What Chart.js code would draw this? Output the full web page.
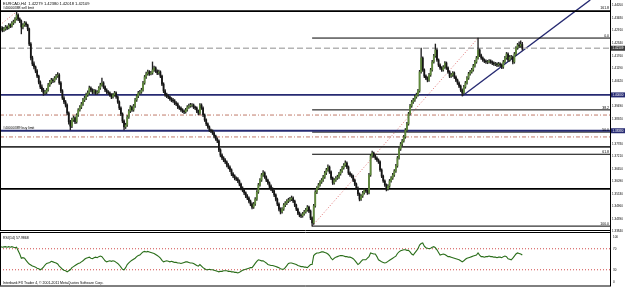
<!DOCTYPE html>
<html>
<head>
<meta charset="utf-8">
<script src="https://cdn.jsdelivr.net/npm/chart.js@4.4.1/dist/chart.umd.min.js"></script>
<style>
  html, body { margin: 0; padding: 0; background: #fff; }
  #wrap { position: relative; width: 625px; height: 292px; overflow: hidden; }
  #main { position: absolute; left: 0; top: 0; }
  #osc { position: absolute; left: 0; top: 233px; }
</style>
</head>
<body>
<div id="wrap">
  <canvas id="main" width="625" height="233"></canvas>
  <canvas id="osc" width="625" height="59"></canvas>
</div>
<script>
// EURCAD H4, 6 Jun - 19 Aug 2011 (one value per H4 bar)
const opens = [1.4296,1.4302,1.4293,1.4298,1.4307,1.4302,1.4316,1.4311,1.4325,1.4330,
  1.4343,1.4361,1.4343,1.4334,1.4307,1.4316,1.4325,1.4316,1.4298,1.4230,
  1.4167,1.4140,1.4126,1.4108,1.4085,1.4058,1.4036,1.4022,1.4009,1.4013,
  1.4022,1.4045,1.4058,1.4067,1.4063,1.4076,1.4085,1.4090,1.4054,1.4018,
  1.3986,1.3968,1.3954,1.3918,1.3878,1.3859,1.3887,1.3896,1.3878,1.3909,
  1.3932,1.3945,1.3959,1.3977,1.3986,1.4000,1.4009,1.4031,1.4022,1.4013,
  1.4018,1.4009,1.4013,1.4031,1.4045,1.4054,1.4036,1.4022,1.4013,1.4009,
  1.4000,1.3991,1.4000,1.4009,1.3991,1.3968,1.3941,1.3914,1.3882,1.3855,
  1.3864,1.3900,1.3927,1.3945,1.3932,1.3950,1.3977,1.3995,1.4009,1.4013,
  1.4022,1.4054,1.4081,1.4095,1.4104,1.4095,1.4099,1.4113,1.4122,1.4108,
  1.4099,1.4104,1.4085,1.4049,1.4018,1.4000,1.3995,1.3991,1.3982,1.3977,
  1.3973,1.3963,1.3959,1.3945,1.3941,1.3932,1.3927,1.3923,1.3932,1.3945,
  1.3950,1.3954,1.3954,1.3945,1.3941,1.3927,1.3918,1.3954,1.3941,1.3909,
  1.3887,1.3869,1.3855,1.3841,1.3837,1.3828,1.3814,1.3801,1.3792,1.3751,
  1.3728,1.3715,1.3706,1.3697,1.3683,1.3674,1.3661,1.3643,1.3634,1.3624,
  1.3620,1.3611,1.3597,1.3579,1.3570,1.3557,1.3543,1.3534,1.3520,1.3507,
  1.3493,1.3507,1.3529,1.3561,1.3593,1.3615,1.3638,1.3647,1.3629,1.3615,
  1.3602,1.3588,1.3575,1.3566,1.3548,1.3529,1.3507,1.3484,1.3471,1.3484,
  1.3502,1.3511,1.3520,1.3525,1.3529,1.3534,1.3520,1.3502,1.3484,1.3466,
  1.3457,1.3453,1.3462,1.3471,1.3480,1.3493,1.3475,1.3444,1.3421,1.3498,
  1.3561,1.3579,1.3593,1.3606,1.3615,1.3629,1.3647,1.3661,1.3674,1.3652,
  1.3624,1.3602,1.3615,1.3624,1.3629,1.3643,1.3656,1.3670,1.3683,1.3692,
  1.3674,1.3647,1.3638,1.3633,1.3615,1.3597,1.3579,1.3552,1.3529,1.3543,
  1.3557,1.3570,1.3566,1.3557,1.3638,1.3724,1.3737,1.3724,1.3715,1.3706,
  1.3697,1.3661,1.3633,1.3611,1.3593,1.3575,1.3588,1.3611,1.3624,1.3638,
  1.3656,1.3679,1.3715,1.3755,1.3778,1.3792,1.3810,1.3841,1.3869,1.3914,
  1.3950,1.3968,1.3977,1.3991,1.4000,1.4018,1.4104,1.4167,1.4113,1.4085,
  1.4076,1.4067,1.4090,1.4113,1.4149,1.4176,1.4203,1.4158,1.4135,1.4122,
  1.4113,1.4126,1.4144,1.4122,1.4104,1.4085,1.4090,1.4099,1.4081,1.4067,
  1.4054,1.4040,1.4022,1.4009,1.4036,1.4054,1.4076,1.4095,1.4104,1.4113,
  1.4131,1.4149,1.4167,1.4203,1.4180,1.4167,1.4158,1.4153,1.4149,1.4149,
  1.4153,1.4149,1.4144,1.4140,1.4140,1.4135,1.4140,1.4135,1.4126,1.4149,
  1.4167,1.4185,1.4158,1.4171,1.4171,1.4149,1.4185,1.4212,1.4226,1.4221,
  1.42279];

const highs = [1.4310,1.4308,1.4305,1.4314,1.4312,1.4322,1.4321,1.4331,1.4338,1.4350,
  1.4376,1.4366,1.4348,1.4339,1.4322,1.4332,1.4330,1.4320,1.4302,1.4236,
  1.4175,1.4150,1.4131,1.4114,1.4090,1.4064,1.4045,1.4030,1.4021,1.4029,
  1.4052,1.4066,1.4075,1.4074,1.4083,1.4093,1.4101,1.4096,1.4060,1.4024,
  1.3993,1.3975,1.3960,1.3923,1.3885,1.3895,1.3905,1.3901,1.3915,1.3938,
  1.3952,1.3966,1.3984,1.3994,1.4008,1.4018,1.4040,1.4037,1.4028,1.4025,
  1.4023,1.4020,1.4038,1.4053,1.4076,1.4060,1.4041,1.4028,1.4019,1.4014,
  1.4006,1.4007,1.4016,1.4014,1.3996,1.3973,1.3946,1.3919,1.3887,1.3872,
  1.3907,1.3934,1.3952,1.3950,1.3957,1.3984,1.4002,1.4016,1.4021,1.4030,
  1.4061,1.4088,1.4103,1.4112,1.4110,1.4107,1.4149,1.4130,1.4127,1.4113,
  1.4112,1.4109,1.4090,1.4055,1.4024,1.4008,1.4001,1.3996,1.3988,1.3984,
  1.3979,1.3970,1.3964,1.3951,1.3946,1.3938,1.3933,1.3939,1.3952,1.3958,
  1.3962,1.3961,1.3959,1.3950,1.3946,1.3932,1.3961,1.3960,1.3946,1.3914,
  1.3892,1.3874,1.3860,1.3846,1.3842,1.3833,1.3818,1.3806,1.3797,1.3757,
  1.3734,1.3721,1.3712,1.3702,1.3690,1.3679,1.3666,1.3649,1.3639,1.3630,
  1.3626,1.3616,1.3602,1.3585,1.3575,1.3562,1.3549,1.3539,1.3525,1.3512,
  1.3514,1.3536,1.3568,1.3600,1.3622,1.3645,1.3658,1.3652,1.3634,1.3620,
  1.3607,1.3593,1.3581,1.3571,1.3553,1.3534,1.3512,1.3490,1.3491,1.3509,
  1.3518,1.3527,1.3533,1.3537,1.3543,1.3539,1.3525,1.3507,1.3489,1.3471,
  1.3462,1.3469,1.3478,1.3487,1.3500,1.3498,1.3480,1.3449,1.3505,1.3568,
  1.3586,1.3600,1.3613,1.3622,1.3636,1.3654,1.3668,1.3684,1.3679,1.3657,
  1.3629,1.3622,1.3631,1.3637,1.3650,1.3663,1.3677,1.3690,1.3702,1.3697,
  1.3679,1.3652,1.3644,1.3638,1.3620,1.3602,1.3584,1.3557,1.3550,1.3564,
  1.3577,1.3576,1.3571,1.3645,1.3731,1.3746,1.3742,1.3729,1.3720,1.3711,
  1.3702,1.3666,1.3638,1.3616,1.3598,1.3595,1.3618,1.3631,1.3645,1.3663,
  1.3686,1.3722,1.3762,1.3785,1.3799,1.3817,1.3848,1.3876,1.3921,1.3957,
  1.3975,1.3985,1.3998,1.4008,1.4025,1.4111,1.4212,1.4172,1.4118,1.4091,
  1.4082,1.4097,1.4120,1.4156,1.4183,1.4230,1.4208,1.4163,1.4140,1.4128,
  1.4133,1.4151,1.4149,1.4127,1.4109,1.4097,1.4106,1.4104,1.4086,1.4072,
  1.4059,1.4045,1.4027,1.4043,1.4061,1.4083,1.4102,1.4111,1.4120,1.4138,
  1.4156,1.4174,1.4257,1.4208,1.4185,1.4172,1.4163,1.4158,1.4156,1.4160,
  1.4158,1.4154,1.4149,1.4147,1.4145,1.4147,1.4145,1.4140,1.4156,1.4174,
  1.4192,1.4190,1.4178,1.4179,1.4176,1.4192,1.4219,1.4233,1.4240,1.4244,
  1.42380];

const lows = [1.4290,1.4285,1.4287,1.4292,1.4295,1.4298,1.4304,1.4306,1.4318,1.4325,
  1.4338,1.4336,1.4326,1.4276,1.4298,1.4310,1.4308,1.4290,1.4222,1.4158,
  1.4132,1.4118,1.4100,1.4078,1.4050,1.4028,1.4015,1.3998,1.4002,1.4006,
  1.4017,1.4038,1.4050,1.4055,1.4058,1.4070,1.4079,1.4047,1.4010,1.3979,
  1.3960,1.3945,1.3910,1.3868,1.3842,1.3852,1.3880,1.3870,1.3872,1.3903,
  1.3926,1.3938,1.3952,1.3970,1.3979,1.3993,1.4003,1.4015,1.4005,1.4006,
  1.4001,1.4002,1.4008,1.4025,1.4040,1.4029,1.4015,1.4006,1.4001,1.3993,
  1.3983,1.3985,1.3994,1.3984,1.3961,1.3933,1.3906,1.3874,1.3842,1.3848,
  1.3858,1.3894,1.3920,1.3925,1.3926,1.3944,1.3970,1.3988,1.4002,1.4007,
  1.4017,1.4048,1.4075,1.4089,1.4088,1.4090,1.4093,1.4106,1.4101,1.4092,
  1.4093,1.4078,1.4042,1.4010,1.3993,1.3988,1.3983,1.3975,1.3969,1.3966,
  1.3956,1.3951,1.3938,1.3934,1.3925,1.3920,1.3915,1.3917,1.3926,1.3939,
  1.3944,1.3946,1.3938,1.3933,1.3920,1.3910,1.3912,1.3934,1.3902,1.3880,
  1.3861,1.3848,1.3834,1.3829,1.3821,1.3806,1.3794,1.3784,1.3743,1.3720,
  1.3707,1.3698,1.3689,1.3675,1.3666,1.3653,1.3635,1.3626,1.3616,1.3612,
  1.3603,1.3589,1.3571,1.3562,1.3549,1.3535,1.3526,1.3512,1.3499,1.3485,
  1.3487,1.3501,1.3523,1.3555,1.3587,1.3609,1.3631,1.3622,1.3608,1.3595,
  1.3580,1.3567,1.3558,1.3540,1.3521,1.3499,1.3476,1.3462,1.3465,1.3478,
  1.3495,1.3504,1.3513,1.3518,1.3522,1.3513,1.3495,1.3477,1.3459,1.3449,
  1.3445,1.3447,1.3456,1.3465,1.3474,1.3468,1.3436,1.3407,1.3415,1.3492,
  1.3554,1.3572,1.3587,1.3600,1.3609,1.3622,1.3640,1.3655,1.3645,1.3617,
  1.3595,1.3596,1.3609,1.3618,1.3623,1.3637,1.3650,1.3664,1.3677,1.3667,
  1.3640,1.3631,1.3625,1.3608,1.3590,1.3572,1.3545,1.3521,1.3523,1.3537,
  1.3551,1.3559,1.3550,1.3552,1.3632,1.3717,1.3717,1.3708,1.3699,1.3690,
  1.3654,1.3626,1.3604,1.3586,1.3566,1.3569,1.3582,1.3605,1.3618,1.3632,
  1.3650,1.3673,1.3709,1.3749,1.3771,1.3786,1.3804,1.3835,1.3863,1.3908,
  1.3944,1.3961,1.3971,1.3985,1.3994,1.4012,1.4098,1.4106,1.4078,1.4069,
  1.4059,1.4061,1.4084,1.4107,1.4143,1.4170,1.4151,1.4128,1.4115,1.4106,
  1.4107,1.4120,1.4115,1.4097,1.4078,1.4079,1.4084,1.4074,1.4060,1.4047,
  1.4033,1.4015,1.3995,1.4003,1.4030,1.4048,1.4070,1.4089,1.4098,1.4107,
  1.4125,1.4143,1.4161,1.4173,1.4160,1.4151,1.4146,1.4142,1.4141,1.4143,
  1.4142,1.4137,1.4133,1.4132,1.4128,1.4129,1.4128,1.4119,1.4120,1.4143,
  1.4161,1.4151,1.4152,1.4163,1.4140,1.4143,1.4179,1.4206,1.4214,1.4215,
  1.42018];

const closes = [1.4302,1.4293,1.4298,1.4307,1.4302,1.4316,1.4311,1.4325,1.4330,1.4343,
  1.4361,1.4343,1.4334,1.4307,1.4316,1.4325,1.4316,1.4298,1.4230,1.4167,
  1.4140,1.4126,1.4108,1.4085,1.4058,1.4036,1.4022,1.4009,1.4013,1.4022,
  1.4045,1.4058,1.4067,1.4063,1.4076,1.4085,1.4090,1.4054,1.4018,1.3986,
  1.3968,1.3954,1.3918,1.3878,1.3859,1.3887,1.3896,1.3878,1.3909,1.3932,
  1.3945,1.3959,1.3977,1.3986,1.4000,1.4009,1.4031,1.4022,1.4013,1.4018,
  1.4009,1.4013,1.4031,1.4045,1.4054,1.4036,1.4022,1.4013,1.4009,1.4000,
  1.3991,1.4000,1.4009,1.3991,1.3968,1.3941,1.3914,1.3882,1.3855,1.3864,
  1.3900,1.3927,1.3945,1.3932,1.3950,1.3977,1.3995,1.4009,1.4013,1.4022,
  1.4054,1.4081,1.4095,1.4104,1.4095,1.4099,1.4113,1.4122,1.4108,1.4099,
  1.4104,1.4085,1.4049,1.4018,1.4000,1.3995,1.3991,1.3982,1.3977,1.3973,
  1.3963,1.3959,1.3945,1.3941,1.3932,1.3927,1.3923,1.3932,1.3945,1.3950,
  1.3954,1.3954,1.3945,1.3941,1.3927,1.3918,1.3954,1.3941,1.3909,1.3887,
  1.3869,1.3855,1.3841,1.3837,1.3828,1.3814,1.3801,1.3792,1.3751,1.3728,
  1.3715,1.3706,1.3697,1.3683,1.3674,1.3661,1.3643,1.3634,1.3624,1.3620,
  1.3611,1.3597,1.3579,1.3570,1.3557,1.3543,1.3534,1.3520,1.3507,1.3493,
  1.3507,1.3529,1.3561,1.3593,1.3615,1.3638,1.3647,1.3629,1.3615,1.3602,
  1.3588,1.3575,1.3566,1.3548,1.3529,1.3507,1.3484,1.3471,1.3484,1.3502,
  1.3511,1.3520,1.3525,1.3529,1.3534,1.3520,1.3502,1.3484,1.3466,1.3457,
  1.3453,1.3462,1.3471,1.3480,1.3493,1.3475,1.3444,1.3421,1.3498,1.3561,
  1.3579,1.3593,1.3606,1.3615,1.3629,1.3647,1.3661,1.3674,1.3652,1.3624,
  1.3602,1.3615,1.3624,1.3629,1.3643,1.3656,1.3670,1.3683,1.3692,1.3674,
  1.3647,1.3638,1.3633,1.3615,1.3597,1.3579,1.3552,1.3529,1.3543,1.3557,
  1.3570,1.3566,1.3557,1.3638,1.3724,1.3737,1.3724,1.3715,1.3706,1.3697,
  1.3661,1.3633,1.3611,1.3593,1.3575,1.3588,1.3611,1.3624,1.3638,1.3656,
  1.3679,1.3715,1.3755,1.3778,1.3792,1.3810,1.3841,1.3869,1.3914,1.3950,
  1.3968,1.3977,1.3991,1.4000,1.4018,1.4104,1.4167,1.4113,1.4085,1.4076,
  1.4067,1.4090,1.4113,1.4149,1.4176,1.4203,1.4158,1.4135,1.4122,1.4113,
  1.4126,1.4144,1.4122,1.4104,1.4085,1.4090,1.4099,1.4081,1.4067,1.4054,
  1.4040,1.4022,1.4009,1.4036,1.4054,1.4076,1.4095,1.4104,1.4113,1.4131,
  1.4149,1.4167,1.4203,1.4180,1.4167,1.4158,1.4153,1.4149,1.4149,1.4153,
  1.4149,1.4144,1.4140,1.4140,1.4135,1.4140,1.4135,1.4126,1.4149,1.4167,
  1.4185,1.4158,1.4171,1.4171,1.4149,1.4185,1.4212,1.4226,1.4221,1.4228,
  1.42109];

const rsi = [74,73,73.5,74,73,74,73,74,73,72,
  73,66,60,52,53,52,48,44,41,39,
  37,36,35,33,32,30,32,35,39,42,
  43,44,46,45,44,43,41,37,34,31,
  29,28,26,28,30,34,36,38,40,42,
  43,45,47,50,52,53,54,52,51,53,
  54,53,55,56,55,51,47,45,46,47,
  46,47,46,44,42,39,35,31,30,34,
  40,43,46,48,50,52,55,57,58,61,
  64,65,64,65,64,63,62,61,59,57,
  55,52,48,45,46,47,46,45,46,45,
  44,44,43,43,42,43,44,45,45,44,
  43,43,42,40,38,37,40,37,34,32,
  30,30,31,30,30,29,28,27,26,27,
  27,28,28,28,27,27,26,26,25,25,
  24,25,27,29,30,31,32,33,34,34,
  38,42,46,49,48,47,47,45,43,40,
  39,38,38,37,36,35,34,32,31,31,
  34,38,42,43,43,42,41,40,38,37,
  36,36,35,35,34,37,40,40,57,60,
  62,62,63,64,64,63,62,60,57,52,
  49,52,54,55,56,57,57,56,55,55,
  54,54,53,51,48,44,40,42,46,49,
  49,49,52,55,62,61,60,60,55,49,
  47,45,44,43,44,46,48,50,52,54,
  56,61,64,66,67,68,68,67,67,64,
  60,58,62,66,70,77,80,81,75,72,
  71,70,71,73,74,72,68,63,58,59,
  60,59,57,55,55,54,53,52,51,50,
  49,47,45,47,50,52,53,54,55,56,
  57,58,62,58,55,55,54,55,55,56,
  55,55,54,54,53,54,54,53,55,56,
  55,51,50,49,52,56,60,62,61,60,
  57.9868];

// one time label every 16 bars
const timeLabels = ['6 Jun 2011','9 Jun 04:00','13 Jun 16:00','16 Jun 08:00','21 Jun 00:00',
  '23 Jun 16:00','28 Jun 08:00','1 Jul 00:00','5 Jul 16:00','8 Jul 08:00','13 Jul 00:00',
  '15 Jul 16:00','20 Jul 08:00','25 Jul 00:00','27 Jul 16:00','1 Aug 04:00','3 Aug 20:00',
  '8 Aug 08:00','11 Aug 00:00','15 Aug 12:00','18 Aug 04:00'];

const priceTicks = [1.44050,1.43480,1.42910,1.42340,1.41760,1.41190,1.40620,1.39490,
  1.38920,1.37780,1.37210,1.36650,1.36090,1.35530,1.34960,1.34390,1.33840];
const rsiTicks = [100, 70, 30, 0];
const rsiLevels = [70, 30];

// drawn objects (prices)
const bidPrice = 1.42109;
const orderLevels = [1.40000, 1.38380];      // blue order lines
const stopLevels = [1.39090, 1.38100];       // dash-dot lines
const blackLevels = [1.43790, 1.37650, 1.35750];
const fibHigh = 1.4257, fibLow = 1.3407;
const fibRatios = [0, 38.2, 50, 61.8, 100];

const SLOTS = 386;           // bars plus the empty shift on the right
const FIB_FROM = 197, FIB_TO = 302;
const FONT = 'Liberation Sans';

const up = closes.map((c, i) => c >= opens[i]);

function hline(price, from, color, width, dash) {
  return {
    type: 'line', order: 5,
    data: [{ x: from, y: price }, { x: SLOTS - 0.5, y: price }],
    borderColor: color, borderWidth: width, borderDash: dash || [],
    pointRadius: 0
  };
}
function seg(p1, p2, color, width, dash) {
  return {
    type: 'line', order: 5, data: [p1, p2],
    borderColor: color, borderWidth: width, borderDash: dash || [],
    pointRadius: 0
  };
}

const fibPrice = r => fibHigh - (fibHigh - fibLow) * r / 100;

const datasets = [
  { type: 'bar', order: 1, grouped: false, barThickness: 0.7,
    data: highs.map((h, i) => ({ x: i, y: [lows[i], h] })),
    backgroundColor: '#202020' },
  { type: 'bar', order: 0, grouped: false, barThickness: 1.1,
    data: opens.map((o, i) => ({ x: i, y: [o, closes[i]] })),
    backgroundColor: up.map(u => u ? '#5f8a3a' : '#151515') },
  hline(bidPrice, -0.5, '#b4b4b4', 1.6, [6, 3]),
  ...blackLevels.map((p, k) => hline(p, -0.5, k === 1 ? '#333' : '#000', 1.8)),
  ...orderLevels.map(p => hline(p, -0.5, '#262a72', 1.8)),
  ...stopLevels.map(p => hline(p, -0.5, '#c07a6a', 1, [4, 2, 1, 2])),
  ...fibRatios.map(r => hline(fibPrice(r), FIB_FROM, '#000', 1)),
  seg({ x: FIB_FROM, y: fibLow }, { x: FIB_TO, y: fibHigh }, '#e07070', 1, [1, 2]),
  seg({ x: -0.5, y: 1.4316 }, { x: 10, y: 1.4376 }, '#e07070', 1, [1, 2]),
  seg({ x: 292, y: 1.3995 }, { x: 373, y: 1.4429 }, '#262a72', 1.4)
];

const mainDecor = {
  id: 'mainDecor',
  afterDraw(chart) {
    const { ctx, scales: { y } } = chart;
    ctx.save();
    ctx.strokeStyle = '#000';
    ctx.lineWidth = 1;
    ctx.beginPath();
    ctx.moveTo(0.5, 0); ctx.lineTo(0.5, 231);
    ctx.moveTo(0, 230.5); ctx.lineTo(611, 230.5);
    ctx.moveTo(0, 232.5); ctx.lineTo(611, 232.5);
    ctx.stroke();

    ctx.fillStyle = '#000';
    ctx.font = '4px ' + FONT;
    ctx.textBaseline = 'top';
    ctx.textAlign = 'left';
    ctx.fillText('EURCAD,H4  1.42279 1.42380 1.42018 1.42109', 3, 2);
    ctx.font = '3.5px ' + FONT;
    ctx.textBaseline = 'bottom';
    ctx.fillText('#40000388 sell limit', 3, y.getPixelForValue(blackLevels[0]) - 1);
    ctx.fillText('#40000389 buy limit', 3, y.getPixelForValue(orderLevels[1]) - 1);

    // fibonacci level captions
    ctx.textAlign = 'right';
    ctx.font = '3.5px ' + FONT;
    fibRatios.forEach(r => {
      ctx.fillText(r.toFixed(1), 609, y.getPixelForValue(fibPrice(r)) - 0.5);
    });
    ctx.fillText('161.8', 609, y.getPixelForValue(blackLevels[0]) - 1);

    // highlighted price labels on the axis
    const tags = [[bidPrice, '#3a3a3a'], [orderLevels[0], '#262a72'], [orderLevels[1], '#262a72']];
    ctx.textAlign = 'left';
    ctx.textBaseline = 'middle';
    ctx.font = '3px ' + FONT;
    tags.forEach(([p, c]) => {
      const py = y.getPixelForValue(p);
      ctx.fillStyle = c;
      ctx.fillRect(611, py - 2.5, 14, 5);
      ctx.fillStyle = '#fff';
      ctx.fillText(p.toFixed(5), 612.5, py);
    });
    ctx.restore();
  }
};

new Chart(document.getElementById('main'), {
  type: 'bar',
  data: { datasets },
  options: {
    responsive: false, animation: false, events: [],
    layout: { padding: 0 },
    plugins: { legend: { display: false }, tooltip: { enabled: false } },
    scales: {
      x: { type: 'linear', min: -0.5, max: SLOTS - 0.5, offset: false, display: false },
      y: {
        position: 'right', min: 1.33758, max: 1.4429,
        afterFit(s) { s.width = 15; s.paddingTop = 0; s.paddingBottom = 0; },
        afterBuildTicks(s) { s.ticks = priceTicks.map(v => ({ value: v })); },
        grid: { display: false, drawTicks: false },
        border: { display: true, color: '#000', width: 1 },
        ticks: { font: { family: FONT, size: 3 }, color: '#000', padding: 2,
                 callback: v => v.toFixed(5) }
      }
    }
  },
  plugins: [mainDecor]
});

const oscDecor = {
  id: 'oscDecor',
  afterDraw(chart) {
    const { ctx, chartArea: a, scales: { y } } = chart;
    ctx.save();
    ctx.strokeStyle = '#000';
    ctx.lineWidth = 1;
    ctx.beginPath();
    ctx.moveTo(0.5, 0); ctx.lineTo(0.5, a.bottom);
    ctx.moveTo(0, a.bottom + 0.5); ctx.lineTo(611, a.bottom + 0.5);
    ctx.stroke();
    ctx.fillStyle = '#000';
    ctx.font = '3.5px ' + FONT;
    ctx.textAlign = 'left';
    ctx.textBaseline = 'top';
    ctx.fillText('RSI(14) ' + rsi[rsi.length - 1].toFixed(4), 3, 3);
    ctx.textBaseline = 'bottom';
    ctx.fillText('Interbank FX Trader 4, \u00a9 2001-2011 MetaQuotes Software Corp.', 3, a.bottom - 1);
    ctx.font = '3px ' + FONT;
    rsiTicks.forEach(v => {
      let py = y.getPixelForValue(v);
      ctx.textBaseline = 'middle';
      if (v === 100) py += 4;
      if (v === 0) py -= 3.5;
      ctx.fillText(String(v), 613, py);
    });
    ctx.restore();
  }
};

new Chart(document.getElementById('osc'), {
  type: 'line',
  data: {
    datasets: [
      { data: rsi.map((v, i) => ({ x: i, y: v })), borderColor: '#2a6e1a',
        borderWidth: 1.1, pointRadius: 0, tension: 0 },
      ...rsiLevels.map(l => ({
        data: [{ x: -0.5, y: l }, { x: SLOTS - 0.5, y: l }],
        borderColor: '#d04a4a', borderWidth: 1, borderDash: [1, 2], pointRadius: 0
      }))
    ]
  },
  options: {
    responsive: false, animation: false, events: [],
    layout: { padding: 0 },
    plugins: { legend: { display: false }, tooltip: { enabled: false } },
    scales: {
      x: {
        type: 'linear', min: -0.5, max: SLOTS - 0.5, offset: false,
        afterFit(s) { s.height = 6.5; s.paddingLeft = 0; s.paddingRight = 0; },
        afterBuildTicks(s) { s.ticks = timeLabels.map((t, k) => ({ value: k * 16 })); },
        grid: { display: false },
        border: { display: false },
        ticks: { autoSkip: false, maxRotation: 0, minRotation: 0, align: 'start', padding: 1.5,
                 font: { family: FONT, size: 3 }, color: '#000',
                 callback: (v, idx) => timeLabels[idx] }
      },
      y: {
        position: 'right', min: 0, max: 100,
        afterFit(s) { s.width = 15; s.paddingTop = 0; s.paddingBottom = 0; },
        ticks: { display: false },
        grid: { display: false },
        border: { display: true, color: '#000', width: 1 }
      }
    }
  },
  plugins: [oscDecor]
});
</script>
</body>
</html>
